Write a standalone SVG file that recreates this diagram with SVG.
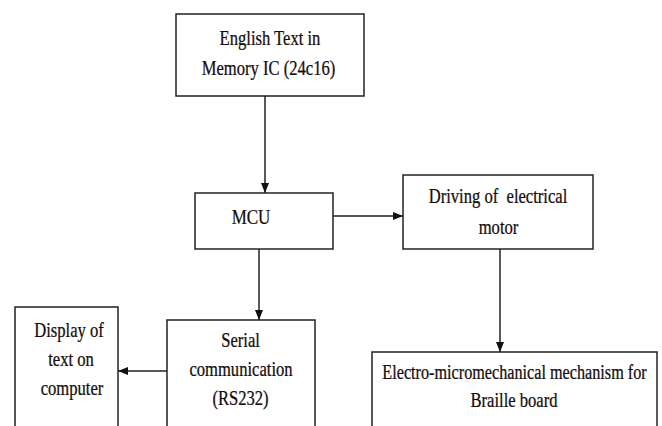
<svg xmlns="http://www.w3.org/2000/svg" width="662" height="426" viewBox="0 0 662 426">
<style>
.box{fill:#fff;stroke:#222;stroke-width:1.5}
.t{font-family:"Liberation Serif","Times New Roman",serif;font-size:20px;fill:#140c0c;stroke:#140c0c;stroke-width:0.25;text-anchor:middle}
.c{stroke:#222;stroke-width:1.5;fill:none;marker-end:url(#ah)}
</style>
<defs>
<marker id="ah" viewBox="0 0 10 10" refX="10" refY="5" markerWidth="10" markerHeight="10" markerUnits="userSpaceOnUse" orient="auto">
<path d="M0,1 L10,5 L0,9 Z" fill="#111"/>
</marker>
</defs>
<rect width="662" height="426" fill="#fff"/>
<g id="memory">
<rect class="box" x="176" y="14" width="188" height="82"/>
<text class="t" transform="translate(270,45) scale(0.83,1)">English Text in</text>
<text class="t" transform="translate(268.5,75) scale(0.83,1)">Memory IC (24c16)</text>
</g>
<g id="mcu">
<rect class="box" x="195" y="193" width="138" height="56"/>
<text class="t" transform="translate(251,224) scale(0.85,1)">MCU</text>
</g>
<g id="driving">
<rect class="box" x="403" y="175" width="190" height="74"/>
<text class="t" transform="translate(498,203) scale(0.83,1)" xml:space="preserve">Driving of  electrical</text>
<text class="t" transform="translate(498.5,234) scale(0.83,1)">motor</text>
</g>
<g id="serial">
<rect class="box" x="167" y="320" width="148" height="120"/>
<text class="t" transform="translate(240.5,347) scale(0.83,1)">Serial</text>
<text class="t" transform="translate(241,376) scale(0.83,1)">communication</text>
<text class="t" transform="translate(240.5,405) scale(0.83,1)">(RS232)</text>
</g>
<g id="display">
<rect class="box" x="15" y="307" width="103" height="130"/>
<text class="t" transform="translate(69,337) scale(0.83,1)">Display of</text>
<text class="t" transform="translate(71,366) scale(0.83,1)">text on</text>
<text class="t" transform="translate(72,395) scale(0.83,1)">computer</text>
</g>
<g id="electro">
<rect class="box" x="372" y="352" width="285" height="90"/>
<text class="t" transform="translate(514.5,379) scale(0.81,1)">Electro-micromechanical mechanism for</text>
<text class="t" transform="translate(514,407) scale(0.83,1)">Braille board</text>
</g>
<g id="connectors">
<line class="c" x1="265" y1="96" x2="265" y2="193"/>
<line class="c" x1="333" y1="216" x2="403" y2="216"/>
<line class="c" x1="259" y1="249" x2="259" y2="320"/>
<line class="c" x1="167" y1="371" x2="118" y2="371"/>
<line class="c" x1="500" y1="249" x2="500" y2="352"/>
</g>
</svg>
